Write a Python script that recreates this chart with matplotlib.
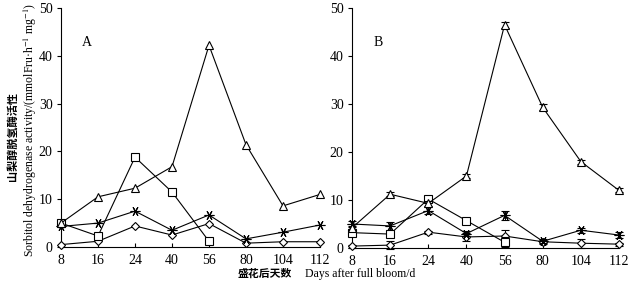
import matplotlib
matplotlib.use("Agg")
import matplotlib.pyplot as plt
import numpy as np

plt.rcParams["mathtext.fontset"] = "stix"

days = ["8", "16", "24", "40", "56", "80", "104", "112"]

# Panel A
a_tri = [5.0, 10.5, 12.3, 16.8, 42.2, 21.4, 8.6, 11.0]
a_sq = [5.0, 2.3, 18.8, 11.5, 1.2]
a_ast = [4.3, 5.0, 7.5, 3.5, 6.7, 1.7, 3.1, 4.6]
a_dia = [0.5, 1.2, 4.4, 2.5, 4.9, 0.8, 1.1, 1.1]

# Panel B
b_tri = [4.2, 11.2, 9.3, 15.0, 46.5, 29.3, 18.0, 12.0]
b_tri_err = [0.3, 0.4, 0.5, 0.5, 0.6, 0.6, 0.4, 0.4]
b_sq = [3.2, 2.9, 10.2, 5.7, 1.2]
b_sq_err = [0.3, 0.3, 0.4, 0.3, 1.0]
b_ast = [5.0, 4.6, 7.8, 3.0, 6.8, 1.4, 3.7, 2.7]
b_ast_err = [0.6, 0.8, 0.8, 0.6, 1.0, 0.4, 0.5, 0.6]
b_dia = [0.4, 0.6, 3.3, 2.3, 2.5, 1.3, 1.0, 0.8]
b_dia_err = [0.3, 0.9, 0.3, 0.9, 1.2, 0.4, 0.9, 0.3]

serif = "Liberation Serif"
cjk = ["Noto Sans CJK SC", "DejaVu Sans"]

fig = plt.figure(figsize=(6.33, 2.86), dpi=100)
axA = fig.add_axes([61/633, 1-247/286, 259/633, 239/286])
axB = fig.add_axes([352/633, 1-248/286, 267/633, 240/286])

ast = (6, 2, 90)
x = np.arange(len(days))

def draw(ax, tri, sq, asx, dia, errs=None):
    kw = dict(color="black", lw=0.8, mfc="white", mec="black", mew=0.8,
              capsize=3, elinewidth=0.7, capthick=0.7, ecolor="black", clip_on=False)
    e = errs or [None, None, None, None]
    ax.errorbar(x[:len(dia)], dia, yerr=e[3], marker="D", ms=4, zorder=3, **kw)
    ax.errorbar(x[:len(asx)], asx, yerr=e[2], marker=ast, ms=7, zorder=4, **kw)
    ax.errorbar(x[:len(sq)], sq, yerr=e[1], marker="s", ms=5.5, zorder=5, **kw)
    ax.errorbar(x[:len(tri)], tri, yerr=e[0], marker="^", ms=6, zorder=6, **kw)
    ax.set_xlim(0, len(days)-1)
    ax.set_ylim(0, 50)
    ax.set_xticks(x)
    ax.set_xticklabels(days)
    ax.set_yticks(range(0, 51, 10))
    for s in ["top", "right"]:
        ax.spines[s].set_visible(False)
    for s in ["left", "bottom"]:
        ax.spines[s].set_linewidth(0.8)
    ax.tick_params(axis="x", direction="in", length=3, width=0.8, pad=5)
    ax.tick_params(axis="y", direction="out", length=3, width=0.8, pad=3)
    for lab in ax.get_xticklabels() + ax.get_yticklabels():
        lab.set_fontfamily(serif)
        lab.set_fontsize(10)
    ax.patch.set_alpha(0)

draw(axA, a_tri, a_sq, a_ast, a_dia)
draw(axB, b_tri, b_sq, b_ast, b_dia, [b_tri_err, b_sq_err, b_ast_err, b_dia_err])

fig.text(82/633, 1-42/286, "A", family=serif, fontsize=10, ha="left", va="center")
fig.text(374/633, 1-42/286, "B", family=serif, fontsize=10, ha="left", va="center")

fig.text(12/633, 1-137/286, "山梨醇脱氢酶活性", family=cjk, fontsize=8,
         fontweight="bold", rotation=90, ha="center", va="center")
fig.text(30/633, 1-130/286,
         "Sorbitol dehydrogenase activity/(mmolFru·h$^{-1}$ mg$^{-1}$)",
         family=serif, fontsize=8.5, rotation=90, ha="center", va="center")

fig.text(238/633, 1-274/286, "盛花后天数", family=cjk, fontsize=7.8,
         fontweight="bold", ha="left", va="center")
fig.text(305/633, 1-274/286, "Days after full bloom/d", family=serif,
         fontsize=8.5, ha="left", va="center")

fig.savefig("out.png", dpi=100)
